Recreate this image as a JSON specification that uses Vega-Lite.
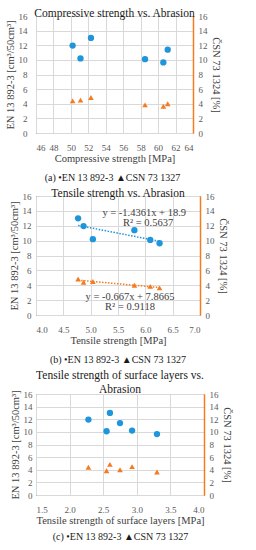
{
  "$schema": "https://vega.github.io/schema/vega-lite/v6.json",
  "padding": {"top": 7, "left": 4, "right": 4, "bottom": 2},
  "background": "white",
  "datasets": {
    "s": [
      {"comp": 52.3, "tens": 4.77, "surf": 2.60, "en": 13.0, "csn": 4.85},
      {"comp": 50.2, "tens": 4.87, "surf": 2.28, "en": 11.95, "csn": 4.4},
      {"comp": 51.1, "tens": 5.04, "surf": 2.93, "en": 10.2, "csn": 4.5},
      {"comp": 61.1, "tens": 5.80, "surf": 2.75, "en": 11.4, "csn": 4.0},
      {"comp": 58.5, "tens": 6.09, "surf": 2.55, "en": 10.1, "csn": 3.85},
      {"comp": 60.6, "tens": 6.26, "surf": 3.30, "en": 9.65, "csn": 3.65}
    ],
    "trendEN": [{"tens": 4.77, "en": 12.05}, {"tens": 6.26, "en": 9.91}],
    "trendCSN": [{"tens": 4.77, "csn": 4.685}, {"tens": 6.26, "csn": 3.69}],
    "eqEN": [{"tens": 5.98, "en": 13.7, "t": "y = -1.4361x + 18.9"}, {"tens": 6.05, "en": 12.4, "t": "R² = 0.5637"}],
    "eqCSN": [{"tens": 5.72, "en": 2.45, "t": "y = -0.667x + 7.8665"}, {"tens": 5.72, "en": 1.1, "t": "R² = 0.9118"}]
  },
  "vconcat": [
    {
      "title": {"text": "(a) •EN 13 892-3 ▲CSN 73 1327", "orient": "bottom", "anchor": "middle", "fontSize": 10, "offset": 9},
      "vconcat": [
        {
          "width": 157, "height": 117,
          "title": {"text": "Compressive strength vs. Abrasion", "offset": -7},
          "data": {"name": "s"},
          "encoding": {
            "x": {"field": "comp", "type": "quantitative", "scale": {"domain": [46, 64], "nice": false, "zero": false},
                  "axis": {"title": "Compressive strength [MPa]", "values": [46, 48, 50, 52, 54, 56, 58, 60, 62, 64], "labelOverlap": false, "labelPadding": 10, "titlePadding": 1}}
          },
          "layer": [
            {
              "mark": {"type": "point", "shape": "circle", "filled": true, "size": 40, "color": "#1F96DB", "opacity": 1},
              "encoding": {
                "y": {"field": "en", "type": "quantitative", "scale": {"domain": [0, 16], "nice": false},
                      "axis": {"title": "EN 13 892-3 [cm³/50cm³]", "values": [0, 2, 4, 6, 8, 10, 12, 14, 16], "labelOverlap": false, "labelPadding": 9}}
              }
            },
            {
              "mark": {"type": "point", "shape": "triangle-up", "filled": true, "size": 32, "color": "#F47B20", "opacity": 1},
              "encoding": {
                "y": {"field": "csn", "type": "quantitative", "scale": {"domain": [0, 16], "nice": false},
                      "axis": {"orient": "right", "title": "ČSN 73 1324 [%]", "values": [0, 2, 4, 6, 8, 10, 12, 14, 16], "labelOverlap": false, "grid": false,
                               "domain": true, "domainColor": "#F47B20", "domainWidth": 1.5}}
              }
            }
          ],
          "resolve": {"scale": {"y": "independent"}}
        }
      ]
    },
    {
      "title": {"text": "(b) •EN 13 892-3 ▲CSN 73 1327", "orient": "bottom", "anchor": "middle", "fontSize": 10, "offset": 9},
      "vconcat": [
        {
          "width": 164, "height": 119,
          "title": {"text": "Tensile strength vs. Abrasion", "offset": -7},
          "encoding": {
            "x": {"field": "tens", "type": "quantitative", "scale": {"domain": [4, 7], "nice": false, "zero": false},
                  "axis": {"title": "Tensile strength [MPa]", "values": [4, 4.5, 5, 5.5, 6, 6.5, 7], "format": ".1f", "labelOverlap": false, "labelPadding": 10, "titlePadding": 1}}
          },
          "layer": [
            {
              "encoding": {
                "y": {"field": "en", "type": "quantitative", "scale": {"domain": [0, 16], "nice": false},
                      "axis": {"title": "EN 13 892-3 [cm³/50cm³]", "values": [0, 2, 4, 6, 8, 10, 12, 14, 16], "labelOverlap": false}}
              },
              "layer": [
                {
                  "data": {"name": "s"},
                  "mark": {"type": "point", "shape": "circle", "filled": true, "size": 40, "color": "#1F96DB", "opacity": 1}
                },
                {
                  "data": {"name": "trendEN"},
                  "mark": {"type": "line", "color": "#1F96DB", "strokeWidth": 1.5, "strokeDash": [1.5, 1.5]}
                },
                {
                  "data": {"name": "eqEN"},
                  "mark": {"type": "text", "font": "Liberation Serif", "fontSize": 10.5, "color": "#404040"},
                  "encoding": {"text": {"field": "t"}}
                },
                {
                  "data": {"name": "eqCSN"},
                  "mark": {"type": "text", "font": "Liberation Serif", "fontSize": 10.5, "color": "#404040"},
                  "encoding": {"text": {"field": "t"}}
                }
              ]
            },
            {
              "encoding": {
                "y": {"field": "csn", "type": "quantitative", "scale": {"domain": [0, 16], "nice": false},
                      "axis": {"orient": "right", "title": "ČSN 73 1324 [%]", "values": [0, 2, 4, 6, 8, 10, 12, 14, 16], "labelOverlap": false, "grid": false,
                               "domain": true, "domainColor": "#F47B20", "domainWidth": 1.5}}
              },
              "layer": [
                {
                  "data": {"name": "s"},
                  "mark": {"type": "point", "shape": "triangle-up", "filled": true, "size": 32, "color": "#F47B20", "opacity": 1}
                },
                {
                  "data": {"name": "trendCSN"},
                  "mark": {"type": "line", "color": "#F47B20", "strokeWidth": 1.5, "strokeDash": [1.5, 1.5]}
                }
              ]
            }
          ],
          "resolve": {"scale": {"y": "independent"}}
        }
      ]
    },
    {
      "title": {"text": "(c) •EN 13 892-3 ▲CSN 73 1327", "orient": "bottom", "anchor": "middle", "fontSize": 10, "offset": 6},
      "vconcat": [
        {
          "width": 168, "height": 101,
          "title": {"text": ["Tensile strength of surface layers vs.", "Abrasion"], "lineHeight": 14, "offset": -6},
          "data": {"name": "s"},
          "encoding": {
            "x": {"field": "surf", "type": "quantitative", "scale": {"domain": [1.5, 4], "nice": false, "zero": false},
                  "axis": {"title": "Tensile strength of surface layers [MPa]", "values": [1.5, 2, 2.5, 3, 3.5, 4], "format": ".1f", "labelOverlap": false, "labelPadding": 10, "titlePadding": 1}}
          },
          "layer": [
            {
              "mark": {"type": "point", "shape": "circle", "filled": true, "size": 40, "color": "#1F96DB", "opacity": 1},
              "encoding": {
                "y": {"field": "en", "type": "quantitative", "scale": {"domain": [0, 16], "nice": false},
                      "axis": {"title": "EN 13 892-3 [cm³/50cm³]", "values": [0, 2, 4, 6, 8, 10, 12, 14, 16], "labelOverlap": false, "labelPadding": 4}}
              }
            },
            {
              "mark": {"type": "point", "shape": "triangle-up", "filled": true, "size": 32, "color": "#F47B20", "opacity": 1},
              "encoding": {
                "y": {"field": "csn", "type": "quantitative", "scale": {"domain": [0, 16], "nice": false},
                      "axis": {"orient": "right", "title": "ČSN 73 1324 [%]", "values": [0, 2, 4, 6, 8, 10, 12, 14, 16], "labelOverlap": false, "grid": false,
                               "domain": true, "domainColor": "#F47B20", "domainWidth": 1.5}}
              }
            }
          ],
          "resolve": {"scale": {"y": "independent"}}
        }
      ]
    }
  ],
  "spacing": 4,
  "config": {
    "font": "Liberation Serif",
    "view": {"stroke": "#404040", "strokeWidth": 1},
    "axis": {
      "labelFont": "Liberation Serif", "labelFontSize": 9, "labelColor": "#595959", "labelOverlap": false, "labelBound": false,
      "titleFont": "Liberation Serif", "titleFontSize": 10.5, "titleFontWeight": "normal", "titleColor": "#404040",
      "ticks": false, "domain": false, "gridColor": "#d9d9d9", "gridWidth": 1, "labelPadding": 5, "titlePadding": 3
    },
    "title": {"font": "Liberation Serif", "fontSize": 11.5, "fontWeight": "normal", "color": "#1a1a1a", "offset": 3}
  }
}
